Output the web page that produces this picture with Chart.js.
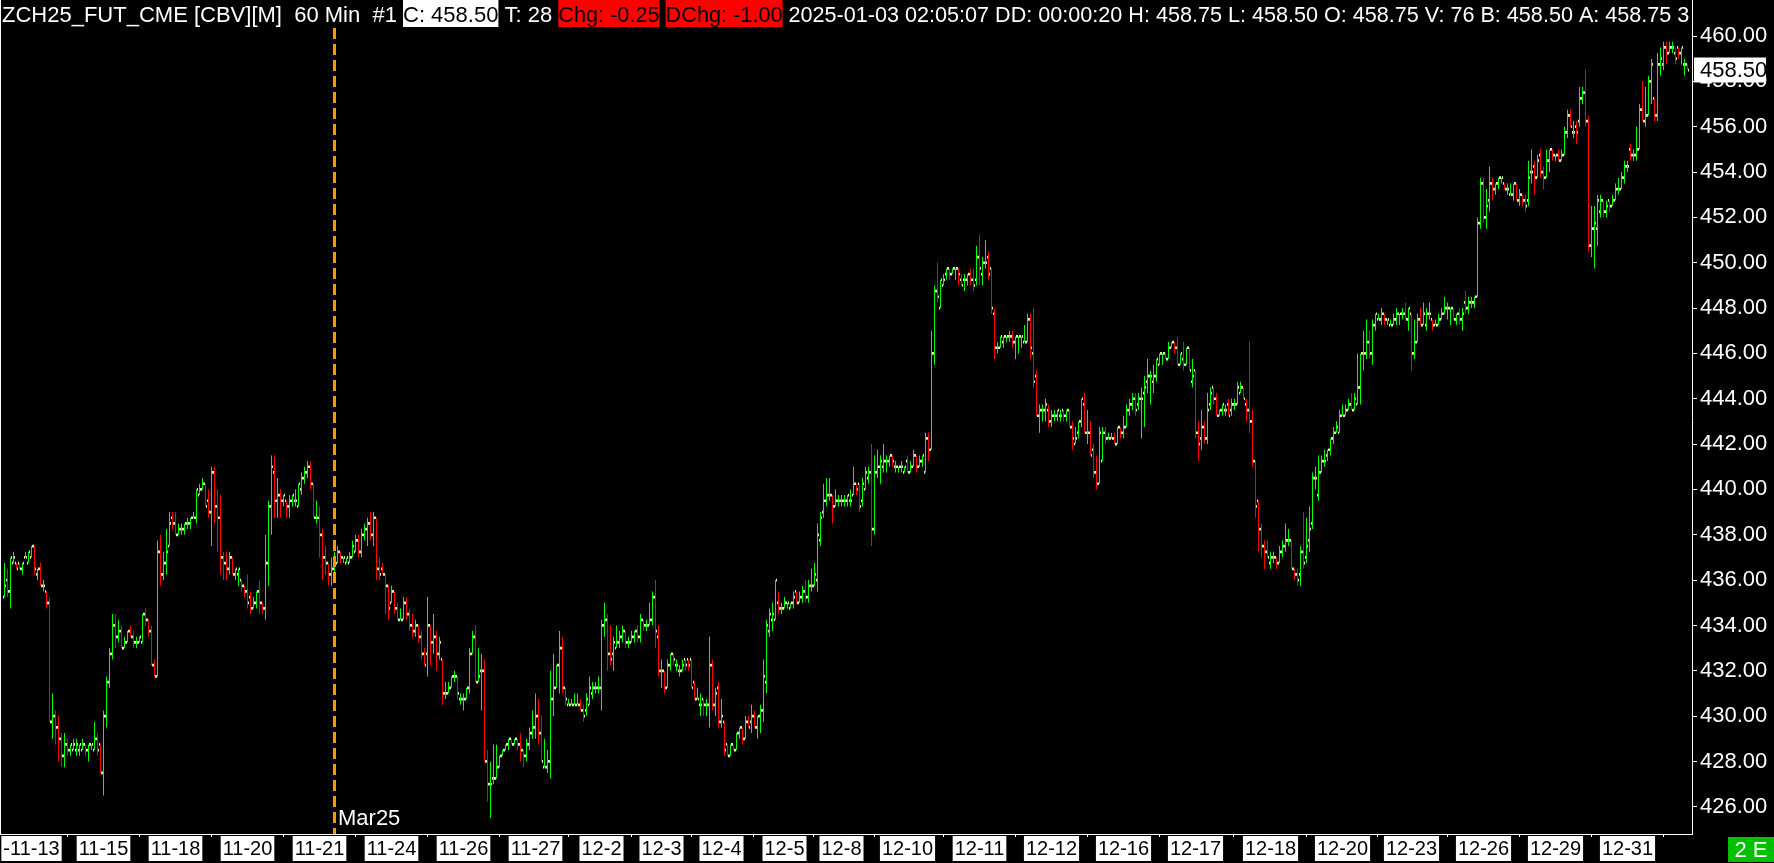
<!DOCTYPE html>
<html><head><meta charset="utf-8">
<script src="https://cdn.jsdelivr.net/npm/chart.js@4.4.1/dist/chart.umd.min.js"></script>
<style>html,body{margin:0;padding:0;background:#000;overflow:hidden}canvas{display:block}</style>
</head><body><canvas id="c" width="1774" height="863"></canvas>
<script>
// ZCH25 60-min bars, 2024-11-13 .. 2025-01-03 (index 0 and 563 are empty slots)
const opens = [
null,435.25,436,435.5,436.75,436.75,436.75,436.5,437,436.75,
437,437.5,436.25,436.5,435.75,435.5,435,429.75,430,429.5,
429,428.25,428.75,428.5,428.5,428.5,428.5,428.5,428.75,428.5,
428.75,428.5,429,428.75,427.5,430,431.5,432.75,434,433.5,
433.75,433,433.25,433.75,433.5,433.25,433.25,433.25,434.5,434.25,
433.75,432.25,431.75,437.25,436.25,436.75,437.5,438.75,438.5,438,
438.25,438.25,438.5,438.5,438.75,438.75,439.75,440,440.25,439.5,
439,440.75,439.25,438.75,437,436.75,436.5,437,436.25,436.25,
436,435.75,435.5,435.25,434.75,435,435.5,435,434.75,436.75,
439.25,440.75,439.5,439.75,439.5,439.5,439.25,439.5,439.5,439.25,
440,440.5,440.75,441,440.25,438.75,438.75,438,437,436.75,
436.25,436.5,436.75,437.25,437,436.75,436.75,437,437.25,437.75,
437.25,438,438.25,438.5,438,438.75,436.5,436.5,436.25,435.75,
435,435.5,434.75,434.25,434.25,435,434.5,434,433.75,434,
433.5,432.75,432.75,434,433.25,433.5,432.75,432.5,431,431,
431.25,431.75,431.75,430.75,430.75,430.75,431.25,432.75,433.5,431.5,
432,432,428,427,427.25,427.25,427.75,428.25,428.5,428.75,
429,428.75,429,428.75,428.5,428.25,428.75,429.25,429.5,430,
429.25,427.75,427.75,428,430.75,431.25,432.25,433,431.25,430.5,
430.5,430.5,430.5,430.5,430.25,430.25,430.5,431,431.25,431.25,
431.25,434,434.25,432.75,432.75,433,433.25,433.5,433.75,433.25,
433.25,433.5,433.75,433.5,434.25,434,434,434.25,435.25,433.5,
432,432,431.25,432.25,432.75,432.25,432,432,432.5,432.5,
432.5,431.5,430.75,430.5,430.75,430.5,430.5,432.25,430.5,431.25,
429.75,429.75,428.75,428.25,428.75,428.5,429.25,429.5,429,429.75,
429.75,430,429.5,430,430.25,431.5,433.75,434.25,434.25,435,
434.75,434.75,435,434.75,435,435.5,435,435.25,435.5,435.25,
435.75,435.75,436,437.75,439,439.5,439.75,439.75,439.25,439.5,
439.5,439.5,439.5,439.5,439.75,440.25,440.25,439.5,440,440.5,
440.75,438.25,440.75,441,441,441.25,441.25,441.5,441,441,
441,440.75,441.25,440.75,441,441.5,441,441.25,440.75,442.25,
441.75,446,448.75,448,449,449.5,449.75,449.5,449.75,449.75,
449.25,449.25,449.25,449.5,449.25,449.25,450.25,449.5,450,450.25,
449.75,447.75,446.25,446.25,446.5,446.75,446.75,446.75,446.5,446.75,
446.75,446.5,446.5,447.5,446,445,443.25,443.5,443.5,443.5,
443,443.25,443.25,443.25,443.5,443.25,443.5,442.75,442,442.5,
443,443.75,442.5,442.5,441.75,440.75,440.25,441.25,442.5,442.25,
442.25,442.25,442,442.75,442.5,442.75,443.5,443.75,444,443.75,
444,444.25,444.75,445,444.75,445,445.5,446,446,445.75,
446.25,446.5,446.25,445.5,445.75,445.5,446.25,444.75,445.25,442.5,
442.25,442.75,442.25,443.75,444.5,444,443.25,443.5,443.5,443.75,
443.5,443.75,443.75,444.25,444.5,443.75,443.5,443,441.25,439.5,
438.25,437.5,437.25,436.75,437,437,436.75,437.25,437.5,437.75,
437.75,436.5,436.25,436.25,437.25,437,437.75,438.5,440.5,439.75,
440.75,441.25,441.5,441.75,442.25,442.5,442.5,443.25,443.25,443.5,
443.75,443.5,443.75,444.5,446,446,446.5,446,447.25,447.5,
447.5,447.75,447.5,447.25,447.25,447.5,447.75,447.75,447.75,447.5,
447.75,446,446.5,447.5,447.25,447.25,447.75,447.5,447.25,447.25,
447.5,447.75,448,448,448,447.5,447.75,447.5,448.25,448,
448.25,448.25,448.5,451.75,453.5,452,452.75,453.5,453.25,453.5,
453.75,453.5,453.25,453,453,453.5,452.75,453,452.75,452.75,
454,454.25,453.75,454.75,454,453.75,454.5,455,454.75,454.75,
454.5,454.75,455.75,456.5,455.75,456,456.25,457.25,457.5,456.25,
450.75,451.5,451.5,452.25,452.75,452.25,452.75,452.5,452.75,453.25,
453.25,453.75,454.25,455,454.75,454.75,455,456.75,456.25,456.5,
458,457.25,456.5,458.75,458.75,459.5,459.25,459.5,459.25,459.5,
459.25,458.75,458.75,null];

const highs = [
null,436.75,436.5,437,437.25,436.75,436.75,436.75,437.25,437.25,
437.5,437.5,436.5,436.75,436,435.5,435.25,431,430.25,430,
429.25,429.25,429,428.75,429,429,428.75,429,428.75,428.75,
428.75,429.75,429.25,428.75,430.25,431.75,433,434.5,434.5,434.25,
434,433.5,433.75,434,433.75,433.5,433.5,434.5,434.75,434.25,
434,432.5,437.75,438,437.25,438.25,439,439,439,438.5,
438.5,438.5,438.75,438.75,439,440,440.25,440.5,440.25,440,
441,441,440,439.75,437.25,437.25,437.25,437,436.5,436.5,
436,435.75,436.25,435.5,435.25,435.5,436,435,438,439.5,
441.5,441.5,440.5,440,439.75,439.5,439.75,439.75,440,440.25,
440.75,441,441.25,441.25,440.25,439.5,439.25,438.25,437.5,436.75,
437,437.25,437.5,437.25,437,437,437.25,437.75,438,438,
438.25,438.5,438.75,439,439,438.75,437,436.75,436.25,435.75,
435.75,435.5,435,434.75,435.25,435.25,434.75,434.5,434.25,434,
433.75,433,435.25,434,434.5,433.75,433.5,432.5,431.5,431.5,
431.75,432,431.75,431,431,431.25,433,433.75,434,433,
432.75,432.5,428.5,428,428.75,428.75,428.25,428.5,428.75,429,
429,429,429,429.25,428.5,429,429.5,430.25,431,430.75,
430,429,428.5,432,432.75,432.25,433.75,433.5,431.25,430.75,
430.75,431,431,430.75,430.5,431,431.75,431.5,431.5,431.75,
434.25,435,434.5,434,433.5,434,433.75,434,433.75,433.5,
433.75,433.75,434,434.5,434.25,434.25,435,435.5,436,434,
432.5,432,432.5,432.75,432.75,432.5,432.25,432.5,432.5,432.5,
432.5,431.5,431.25,431,430.75,430.75,433.5,432.5,431.25,431.5,
430.75,429.75,428.75,428.75,428.75,429.25,429.5,429.5,430,430,
430.5,430.25,430,430.5,432.5,434.25,434.75,435,436,435.5,
435,435.25,435,435,435.5,435.5,435.5,435.75,436,436,
436.5,436.75,438.5,439,440.25,440.5,440.5,439.75,440,439.75,
439.75,439.75,439.75,440,441,440.25,440.25,440.5,441,441,
442,441.5,441.75,441.5,442,441.5,441.5,441.5,441.25,441,
441.25,441,441.5,441.25,441.75,441.5,441.5,441.5,442.5,442.5,
447,449,450,449.25,449.5,449.75,449.75,449.75,449.75,449.75,
449.5,449.5,449.5,449.75,449.75,450.75,451.25,450.25,451,450.5,
449.75,448,446.5,446.75,446.75,446.75,447,447,446.75,446.75,
446.75,447.25,447.75,447.75,448,445.25,443.75,443.75,444,443.75,
443.5,443.5,443.5,443.5,443.5,443.5,443.5,443,442.75,443,
444,444.25,443.5,443,442,441.5,442.75,442.75,442.75,442.5,
442.5,442.5,442.75,442.75,443.25,443.75,444,444.25,444.25,444.25,
444.5,445,445.75,445.25,445.5,445.75,446,446,446,446.5,
446.5,446.5,446.75,446,446.5,446.25,446.25,445.75,445.25,443,
443.5,443,444.25,444.5,444.5,444.25,443.5,443.75,443.75,444,
444,444,444.75,444.75,444.5,444,446.5,443.5,441.25,439.5,
438.5,437.75,437.75,437.25,437.25,437,437.5,437.75,438.5,438.25,
437.75,436.5,436.5,437.5,439,438.75,439.25,440.75,441,441.5,
441.5,441.75,441.75,442.25,442.75,443,443.5,443.75,443.75,444,
444.25,444.25,446,446,447,447.5,447,447.5,447.75,447.75,
448,447.75,447.5,447.5,447.75,448,447.75,448,448.25,448,
447.75,447.5,447.75,448,448.25,448,448.25,447.5,447.5,447.75,
448,448.5,448.25,448,448,447.75,448,448,448.75,448.5,
448.5,448.5,452,453.75,453.75,453.25,454.25,453.75,453.5,453.75,
453.75,453.5,453.5,453.5,453.5,453.5,453.25,453,453,454.5,
455,454.5,454.75,455,454.25,455,455,455,454.75,455,
455,456,456.75,456.75,456.25,456.25,457.75,457.75,458.5,456.5,
452.5,452.5,453,453,452.75,452.75,452.75,453,453.5,453.75,
454,454.5,454.5,455.25,455,456,457,458,457.75,458.25,
459,457.25,459.25,459.5,459.75,459.75,459.75,459.75,459.5,459.5,
459.5,459,458.75,null];

const lows = [
null,435.25,435.25,434.75,436.75,436.5,436.5,436.25,437,436.75,
437,436.25,436,435.75,435.5,434.75,429.75,429,428.75,428,
427.75,427.75,428.25,428.25,428.5,428.25,428.25,428.5,428.25,428,
428.5,428.5,428.25,427.5,426.5,429.5,431.25,432.5,433,433.25,
433,433,433.25,433.5,433,433,433.25,433.25,434,433.5,
432.25,431.75,431.75,435.75,436,436.25,437.5,438.25,438,438,
438,438,438.25,438.25,438.75,438.5,439.75,440,439.25,438.75,
437.5,438.5,437.25,436.25,436,436,436.25,436.25,436,435.75,
435.5,435.25,434.75,434.5,434.75,434.75,434.5,434.5,434.25,435.75,
438,438.75,438.75,438.75,439.25,438.75,438.75,439.25,439.25,439.25,
439.75,440.25,440.5,440,438.75,438.5,437,436,436.25,435.75,
435.75,436.25,436.75,436.75,436.75,436.75,436.75,437,437.25,437,
437,437.75,437.5,437.75,437.5,436,436,436.25,434.5,434.25,
435,434.5,434.25,434.25,434.25,434.25,433.75,433.5,433.5,433.25,
432.5,432.25,431.75,432.25,432.75,432,432.5,430.5,430.75,431,
431.25,431.5,430.75,430.5,430.25,430.75,431,432.75,431.5,431.5,
430.25,428,426.25,425.5,427,427.25,427.75,428.25,428.5,428.5,
428.75,428.75,428.5,428,427.75,428,428.5,429,429,428.75,
428,427.75,427.5,427.25,430,431.25,431,431,430.5,430.5,
430.5,430.5,430.5,430.25,429.75,430,430.5,430.75,431,431,
430.25,433.5,432,432.25,432,433,433,433.25,433,433,
433.25,433.25,433.25,433.25,433.75,433.75,434,434,433,431.75,
431.25,431,431.25,432,432.25,432,431.75,432,432,432,
431.25,430.75,430.75,430,430,430,429.5,430.25,430,429.5,
429.5,428.25,428.25,428.25,428.5,428.5,429,428.75,429,429.5,
429.25,429.5,429,429.25,429.75,431,433.5,433.75,434.25,434.5,
434.5,434.75,434.75,434.75,434.75,435,435,435,435,435,
435.5,435.75,435.5,437.5,438.75,439.25,439.5,438.5,439.25,439.25,
439.25,439.25,439.25,439.25,439.75,439.75,439,439.25,440,440.25,
437.5,438,440.5,440.25,440.75,440.75,441,441,440.75,440.75,
440.75,440.75,440.75,440.75,441,440.75,441,441,440.75,441.25,
441.75,445.5,448.25,448,449,449.25,449.25,449.5,449.25,449,
449,448.75,449,449,448.75,449,449,449,449.75,449.25,
447.75,445.75,446,446.25,446.25,446.5,446.5,446.25,445.75,446,
446.25,446.5,446.5,445.75,444.5,443.25,442.5,443,443,442.75,
442.75,443,443,443,443,443,442.75,441.75,442,442.25,
442.75,442.5,442,441.5,440.5,440,440.25,441.25,442,442.25,
442.25,442,442,442.25,442.25,442.75,443.25,443.5,443.25,443.5,
442.25,442.75,444.25,443.75,444.25,444.75,445.5,445.5,445.75,445.75,
446.25,446,445.5,445.5,445.25,445.5,445.25,444.5,442.25,441.25,
441.75,442,442,443.5,443.75,443.25,443.25,443.25,443.25,443.25,
443.25,443.5,443.75,444.25,444,443,442.5,441,438.75,437.25,
437,436.5,437,436.5,436.75,436.5,436.75,437,437.25,437.5,
436.5,436,435.75,435.75,436.5,436.75,437.25,438.25,440,439.5,
440.75,441,441.25,441.5,442,442.5,442.5,443.25,443.25,443.5,
443.5,443.5,443.75,443.75,445.25,445.75,445.75,445.5,447,447.5,
447.25,447.25,447.25,447.25,447.25,447.25,447.25,447.5,447.5,447,
445.25,445.75,446.5,447.25,447.25,447,447.5,447,447.25,447.25,
447.5,447.75,447.5,447.25,447.5,447.25,447.25,447,447.75,447.75,
448,448,448.5,451.5,451.75,451.5,452.25,452.75,453,453.25,
453.5,453.25,453,453,452.75,452.75,452.5,452.5,452.25,452.5,
453.5,453,453.75,453.75,453.25,453.75,454,454.5,454.5,454.5,
454.5,454.75,455.5,456,455.5,455.25,456,457,456,450.5,
450.25,449.75,450.75,452,452,452,452.25,452.5,452.75,453,
453.25,453.5,454,454.5,454.5,454.5,455,456.25,456,456.5,
457,456.25,456.25,458.25,458.5,458.75,459.25,459.25,458.75,459,
458.75,458.25,458.5,null];

const closes = [
null,435.75,435.5,437,437,436.5,436.5,436.75,437,437.25,
437.5,436.5,436.5,435.75,435.75,435,429.75,430,429.5,429,
428.25,428.75,428.5,428.75,428.75,428.75,428.75,428.75,428.5,428.75,
428.75,429,428.5,427.5,430,431.5,432.75,434,433.5,433.75,
433,433.25,433.75,433.5,433.25,433.25,433.5,434.5,434.25,433.75,
432.25,431.75,437.25,436.25,436.75,437.25,438.5,438.5,438,438.25,
438.25,438.5,438.5,438.75,438.75,440,440,440.25,439.25,439,
440.75,439.25,438.75,437,436.75,436.5,437,436.25,436.5,436.5,
435.75,435.5,435,434.75,435,435.5,435,434.75,436.75,439.25,
441,439.5,439.75,439.5,439.75,439.25,439.5,439.75,439.5,440.25,
440.5,440.75,441,440.25,438.75,438.75,438,437,436.75,436.25,
436.5,437,437.25,437,437,437,437,437.5,437.75,437.25,
438,438.25,438.5,438,438.75,436.5,436.25,436.25,435.75,434.75,
435.5,434.75,434.25,434.25,435,434.5,434,433.75,434,433.5,
432.75,432.25,434,433.25,433.5,432.75,433.25,431,431,431.25,
431.75,431.75,431,430.75,430.75,431.25,432.75,433.5,431.5,431.75,
432,428,427,427,427.25,427.75,428.25,428.5,428.75,429,
428.75,429,428.75,428.5,428.25,428.75,429.25,429.5,430,429.25,
428,427.75,428,430.75,431.25,432.25,433,431.25,430.75,430.5,
430.5,430.5,430.5,430.25,430,430.75,431.25,431.25,431.25,431.25,
434,434.25,432.75,432.5,433.25,433.25,433.5,433.75,433.25,433.25,
433.5,433.75,433.5,434.25,434,434,434.25,435.25,433.75,432,
432,431.25,432.25,432.75,432.5,432.25,432,432.25,432.25,432.25,
431.25,430.75,430.75,430.5,430.5,430.5,432.25,430.5,431,429.75,
430,428.5,428.25,428.75,428.5,429.25,429.5,429,429.75,429.5,
430,429.5,430,430.25,431.75,434,434.5,434.5,436,434.75,
434.75,435,435,435,435.25,435,435.25,435.5,435.25,435.75,
435.75,436.25,438,438.75,439.5,439.75,439.75,439.25,439.5,439.5,
439.5,439.5,439.75,439.5,440.25,440,439.25,440.25,440.75,440.75,
438.25,440.75,441,441.25,441.25,441.25,441.5,441.25,441,441,
441,441,440.75,441,441.5,441,441.25,441.5,442.25,441.75,
446,448.75,448.5,449.25,449.25,449.75,449.5,449.75,449.75,449.5,
449,449.25,449.5,449.25,449,450.25,449.75,450,450,449.5,
448,446.25,446.25,446.75,446.75,446.75,446.75,446.5,446.75,446.75,
446.75,446.5,447.5,446.25,444.75,443.25,443.5,443.5,443.75,443,
443.25,443.25,443.5,443.25,443.25,443.5,442.75,442.25,442.25,443,
444,442.5,442.5,441.5,440.75,440.25,442.5,442.5,442.25,442.25,
442.25,442,442.75,442.5,442.75,443.5,443.75,444,443.5,444,
444,444.5,445,445,445,445.75,446,446,445.75,446.25,
446.5,446.25,445.5,446,445.5,446.25,445.25,445,442.5,442,
442.75,442.25,443.5,444.25,444,443.25,443.5,443.75,443.5,443.25,
443.75,443.75,444.5,444.5,444,443.5,443,441.25,439.25,438.25,
437.5,437.25,437,437,437,436.75,437.25,437.5,437.75,437.75,
436.5,436.25,436,437.25,436.75,437.5,438.25,440.5,440.5,440.75,
441.25,441.25,441.75,442.25,442.5,442.75,443.25,443.25,443.5,443.75,
443.5,444,444.5,446,446,446.5,446,447.25,447.75,447.5,
447.75,447.5,447.5,447.25,447.5,447.75,447.75,447.75,447.5,448,
446,446.5,447.5,447.25,447.75,447.75,447.75,447.25,447.25,447.5,
447.75,448,448,448,447.5,447.75,447.5,447.75,448,448.25,
448.25,448.5,451.75,453.5,452,452.5,453.5,453.25,453.5,453.75,
453.75,453.25,453.25,453,453.5,452.75,453,452.75,452.5,453.75,
454,453.75,454.5,454,453.75,454.5,455,454.75,454.75,454.5,
454.75,455.75,456.5,456,455.75,455.75,457.25,457.5,456.25,450.75,
451.5,451.75,452.75,452.75,452.25,452.5,452.5,452.75,453.25,453.25,
453.75,454.25,454.25,454.75,454.75,455,456.75,456.25,456.5,458,
458.75,456.5,458.75,459,459.5,459.25,459.5,459.5,459,459.25,
459.5,458.75,458.5,null];

// date labels shown on the time axis and the bar each one sits under
const tickDates = ['-11-13','11-15','11-18','11-20','11-21','11-24','11-26','11-27','12-2','12-3','12-4','12-5','12-8','12-10','12-11','12-12','12-16','12-17','12-18','12-20','12-23','12-26','12-29','12-31'];
const tickBars  = [10,34,58,82,106,130,154,178,200,220,240,261,280,302,326,350,374,398,423,447,470,494,518,542];
// price axis labels
const yTicks = [426,428,430,432,434,436,438,440,442,444,446,448,450,452,454,456,458,460];
// contract roll marker
const rollBar = 111, rollLabel = 'Mar25';
// header line
const headerParts = [
  {t:'ZCH25_FUT_CME [CBV][M]  60 Min  #1 ', fg:'#ffffff', size:22},
  {t:'C: 458.50', fg:'#000000', bg:'#ffffff', size:22},
  {t:' T: 28 ', fg:'#ffffff', size:22},
  {t:'Chg: -0.25', fg:'#000000', bg:'#ff0000', size:21.7},
  {t:' ', fg:'#ffffff', size:21.7},
  {t:'DChg: -1.00', fg:'#000000', bg:'#ff0000', size:21.7},
  {t:' 2025-01-03 02:05:07 DD: 00:00:20 H: 458.75 L: 458.50 O: 458.75 V: 76 B: 458.50 A: 458.75 3', fg:'#ffffff', size:21.6}
];

const FONT = '"Liberation Sans", Arial, sans-serif';
Chart.defaults.font.family = FONT;
const UP = '#00ff00', DN = '#ff0000', TICKC = '#ccff99';
const TH = 0.06; // half height of open/close ticks (price units)
const labelMap = {}; tickBars.forEach((b, i) => labelMap[b] = tickDates[i]);
const barColors = closes.map((c, i) => c == null ? 'rgba(0,0,0,0)' : (c >= opens[i] ? UP : DN));
let lastIdx = closes.length - 1; while (closes[lastIdx] == null) lastIdx--;

const deco = {
  id: 'deco',
  beforeDraw(chart) {
    const c = chart.ctx; c.save(); c.fillStyle = '#000'; c.fillRect(0, 0, chart.width, chart.height); c.restore();
  },
  afterDraw(chart) {
    const { ctx, scales: { x, y }, chartArea: a } = chart;
    ctx.save();
    // left frame line
    ctx.fillStyle = '#ffffff'; ctx.fillRect(0, 0, 1, a.bottom);
    // roll line
    const rx = x.getPixelForValue(rollBar);
    ctx.strokeStyle = '#ff9900'; ctx.lineWidth = 3; ctx.setLineDash([11, 5]);
    ctx.beginPath(); ctx.moveTo(rx, 28); ctx.lineTo(rx, a.bottom); ctx.stroke();
    ctx.setLineDash([]);
    ctx.font = '22px ' + FONT; ctx.fillStyle = '#ffffff'; ctx.textBaseline = 'alphabetic'; ctx.textAlign = 'left';
    ctx.fillText(rollLabel, rx + 3.5, 825);
    // last price box
    const last = closes[lastIdx], py = y.getPixelForValue(last);
    ctx.fillStyle = '#ffffff'; ctx.fillRect(a.right + 2, Math.round(py) - 12.5, 72, 25);
    ctx.fillStyle = '#000000'; ctx.textBaseline = 'middle';
    ctx.fillText(last.toFixed(2), a.right + 8, py + 1);
    // bottom-right badge
    ctx.fillStyle = '#00c000'; ctx.fillRect(1728, 837, 46, 25);
    ctx.fillStyle = '#ffffff'; ctx.textAlign = 'center'; ctx.textBaseline = 'alphabetic';
    ctx.fillText('2 E', 1751, 857);
    ctx.restore();
    // header
    ctx.save();
    ctx.beginPath(); ctx.rect(0, 0, a.right, 30); ctx.clip();
    ctx.textBaseline = 'alphabetic'; ctx.textAlign = 'left';
    let hx = 2;
    for (const s of headerParts) {
      ctx.font = s.size + 'px ' + FONT;
      const w = ctx.measureText(s.t).width;
      if (s.bg) { ctx.fillStyle = s.bg; ctx.fillRect(hx, 0, w, 27); }
      ctx.fillStyle = s.fg; ctx.fillText(s.t, hx, 22);
      hx += w;
    }
    ctx.restore();
  }
};

const common = { type: 'bar', barThickness: 1, borderWidth: 0, inflateAmount: 0, grouped: true };
new Chart(document.getElementById('c'), {
  type: 'bar',
  data: {
    labels: opens.map((_, i) => i),
    datasets: [
      { ...common, data: opens.map(o => o == null ? null : [o - TH, o + TH]), backgroundColor: TICKC },
      { ...common, data: lows.map((l, i) => l == null ? null : [l, highs[i]]), backgroundColor: barColors, minBarLength: 1 },
      { ...common, data: closes.map(c => c == null ? null : [c - TH, c + TH]), backgroundColor: TICKC }
    ]
  },
  options: {
    responsive: false, animation: false, devicePixelRatio: 1,
    layout: { padding: 0 },
    plugins: { legend: { display: false }, tooltip: { enabled: false }, title: { display: false } },
    scales: {
      x: {
        type: 'category', offset: true,
        grid: { display: true, drawOnChartArea: false, drawTicks: true, tickLength: 3, color: '#ffffff' },
        border: { display: true, color: '#ffffff', width: 1 },
        ticks: {
          autoSkip: false, maxRotation: 0, minRotation: 0, color: '#000000', font: { size: 20 }, padding: 0,
          showLabelBackdrop: true, backdropColor: '#ffffff', backdropPadding: { top: 1, bottom: 0, left: 2, right: 2 },
          callback: v => labelMap[v] ?? ''
        },
        afterBuildTicks: s => { s.ticks = tickBars.map(v => ({ value: v })); },
        afterFit: s => { s.height = 29; s.paddingLeft = 0; s.paddingRight = 0; s.paddingTop = 0; s.paddingBottom = 0; }
      },
      y: {
        position: 'right', min: 424.80, max: 461.59,
        grid: { display: true, drawOnChartArea: false, drawTicks: true, tickLength: 5, color: '#ffffff' },
        border: { display: true, color: '#ffffff', width: 1 },
        ticks: { color: '#ffffff', font: { size: 22 }, padding: 3, callback: v => Number(v).toFixed(2) },
        afterBuildTicks: s => { s.ticks = yTicks.map(v => ({ value: v })); },
        afterFit: s => { s.width = 82; s.paddingLeft = 0; s.paddingRight = 0; s.paddingTop = 0; s.paddingBottom = 0; }
      }
    }
  },
  plugins: [deco]
});
</script>
</body></html>
